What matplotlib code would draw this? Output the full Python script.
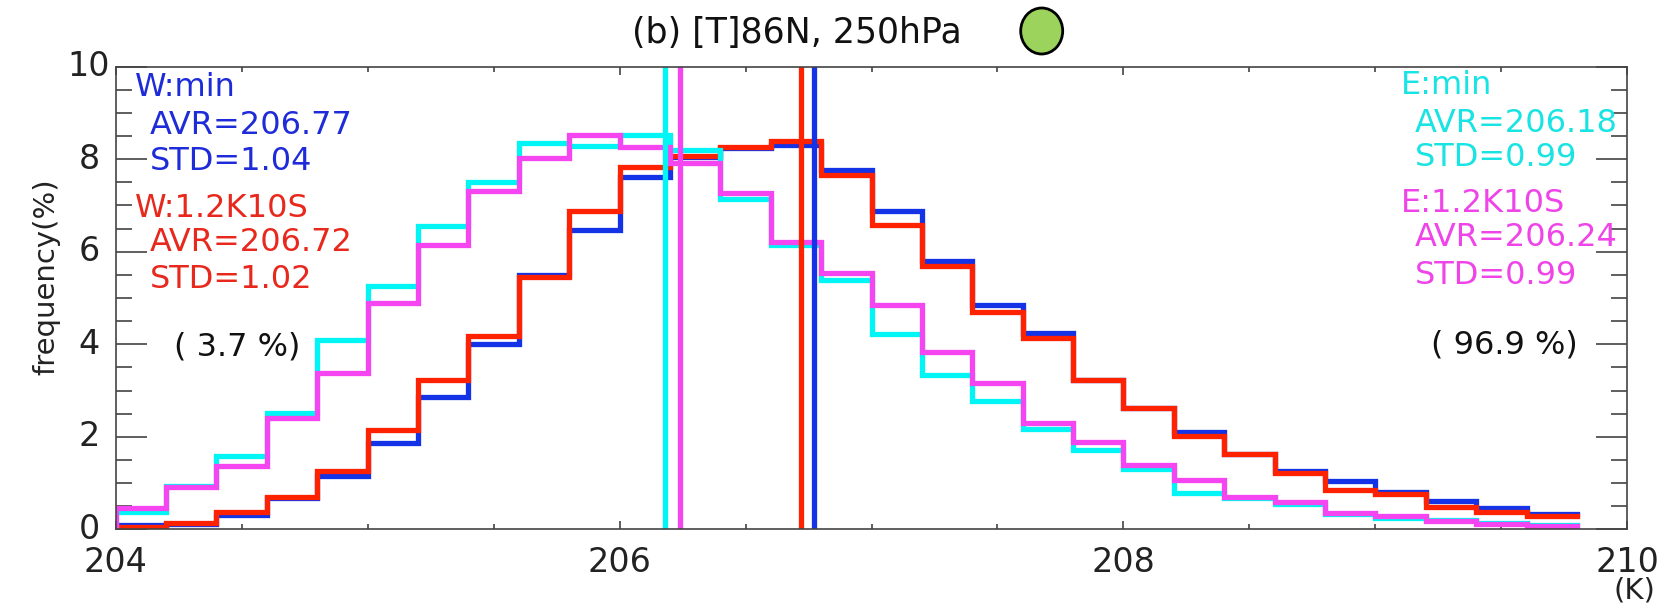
import numpy as np
import matplotlib.pyplot as plt
from matplotlib.patches import Ellipse
from matplotlib.ticker import MultipleLocator

W, H = 1677, 611

# histogram bins (K), 0.2 K wide
edges = np.round(np.arange(204.0, 209.81, 0.2), 1)

w_min = [0.10, 0.12, 0.31, 0.68, 1.15, 1.87, 2.87, 4.00, 5.50, 6.47,
         7.61, 8.05, 8.25, 8.31, 7.77, 6.87, 5.79, 4.85, 4.24, 3.23,
         2.63, 2.10, 1.63, 1.27, 1.05, 0.81, 0.62, 0.45, 0.33]
w_12k = [0.04, 0.14, 0.38, 0.70, 1.27, 2.15, 3.23, 4.18, 5.46, 6.87,
         7.84, 8.08, 8.27, 8.40, 7.66, 6.58, 5.69, 4.70, 4.13, 3.23,
         2.63, 2.02, 1.63, 1.21, 0.86, 0.76, 0.48, 0.38, 0.29]
e_min = [0.37, 0.93, 1.58, 2.52, 4.09, 5.26, 6.56, 7.51, 8.35, 8.29,
         8.52, 8.20, 7.15, 6.15, 5.39, 4.22, 3.33, 2.78, 2.16, 1.71,
         1.30, 0.79, 0.67, 0.55, 0.33, 0.24, 0.20, 0.14, 0.09]
e_12k = [0.45, 0.92, 1.37, 2.41, 3.37, 4.90, 6.15, 7.31, 8.03, 8.52,
         8.27, 7.91, 7.26, 6.20, 5.55, 4.85, 3.84, 3.16, 2.29, 1.89,
         1.39, 1.07, 0.69, 0.58, 0.36, 0.29, 0.19, 0.11, 0.07]

names = ['W:min', 'W:1.2K10S', 'E:min', 'E:1.2K10S']
avr = [206.77, 206.72, 206.18, 206.24]
std = [1.04, 1.02, 0.99, 0.99]
pct_left = 3.7
pct_right = 96.9

line_col = ['#1432e6', '#ff2200', '#00f5f5', '#f545f0']
text_col = ['#1e2bd8', '#e8281c', '#19e3e3', '#ee44e8']

FS = 23


def px(x, y):
    return x / W, 1 - y / H


fig = plt.figure(figsize=(W / 100, H / 100), dpi=100)
x0, y0 = px(115.7, 529.3)
ax = fig.add_axes([x0, y0, 1511.6 / W, 462.6 / H])

for vals, c in zip([w_min, w_12k, e_min, e_12k], line_col):
    xs = np.r_[edges[0], edges]
    ys = np.r_[0, vals, vals[-1]]
    ax.step(xs, ys, where='post', color=c, lw=3.8, solid_joinstyle='miter')

for a, c in zip(avr, line_col):
    ax.axvline(a, color=c, lw=3.8)

ax.set_xlim(204, 210)
ax.set_ylim(0, 10)
ax.xaxis.set_major_locator(MultipleLocator(2))
ax.xaxis.set_minor_locator(MultipleLocator(0.5))
ax.yaxis.set_major_locator(MultipleLocator(2))
ax.yaxis.set_minor_locator(MultipleLocator(0.5))

ax.tick_params(axis='both', which='both', direction='in', top=True, right=True,
               color='#333333', width=1.1)
ax.tick_params(axis='x', which='major', length=5.8, labelsize=24, pad=12)
ax.tick_params(axis='x', which='minor', length=3.6)
ax.tick_params(axis='y', which='major', length=22, labelsize=24, pad=19.2)
ax.tick_params(axis='y', which='minor', length=11.5)
for lab in ax.get_yticklabels():
    lab.set_ha('center')
    lab.set_va('center')
    lab.set_color('#222222')
for lab in ax.get_xticklabels():
    lab.set_color('#222222')
for s in ax.spines.values():
    s.set_color('#444444')
    s.set_linewidth(1.2)

ax.set_ylabel('frequency(%)', fontsize=21, color='#222222', va='center')
ax.yaxis.set_label_coords(-0.0456, 0.546)

# (K) under the right end of the x axis
fig.text(*px(1634, 590), '(K)', fontsize=21, ha='center', va='center', color='#222222')

# title and marker circle
fig.text(*px(797, 33), '(b) [T]86N, 250hPa', fontsize=25, ha='center', va='center',
         color='#111111')
cx, cy = px(1041.7, 31)
fig.add_artist(Ellipse((cx, cy), 42 / W, 46 / H, transform=fig.transFigure,
                       facecolor='#9bd35c', edgecolor='black', lw=2.0))

# statistics text, left (W) and right (E)
rows_y = [[88, 125, 161], [208, 243, 280]]
for i in range(2):
    c = text_col[i]
    ya, yb, yc = rows_y[i]
    fig.text(*px(135, ya), names[i], fontsize=FS, color=c, va='center')
    fig.text(*px(150, yb), f'AVR={avr[i]:.2f}', fontsize=FS, color=c, va='center')
    fig.text(*px(150, yc), f'STD={std[i]:.2f}', fontsize=FS, color=c, va='center')

rows_y_r = [[86, 123, 157], [204, 238, 275]]
for i in range(2):
    c = text_col[i + 2]
    ya, yb, yc = rows_y_r[i]
    fig.text(*px(1401, ya), names[i + 2], fontsize=FS, color=c, va='center')
    fig.text(*px(1415, yb), f'AVR={avr[i + 2]:.2f}', fontsize=FS, color=c, va='center')
    fig.text(*px(1415, yc), f'STD={std[i + 2]:.2f}', fontsize=FS, color=c, va='center')

fig.text(*px(174, 347), f'( {pct_left} %)', fontsize=FS, color='#111111', va='center')
fig.text(*px(1431, 345), f'( {pct_right} %)', fontsize=FS, color='#111111', va='center')

fig.savefig('out.png', dpi=100)
